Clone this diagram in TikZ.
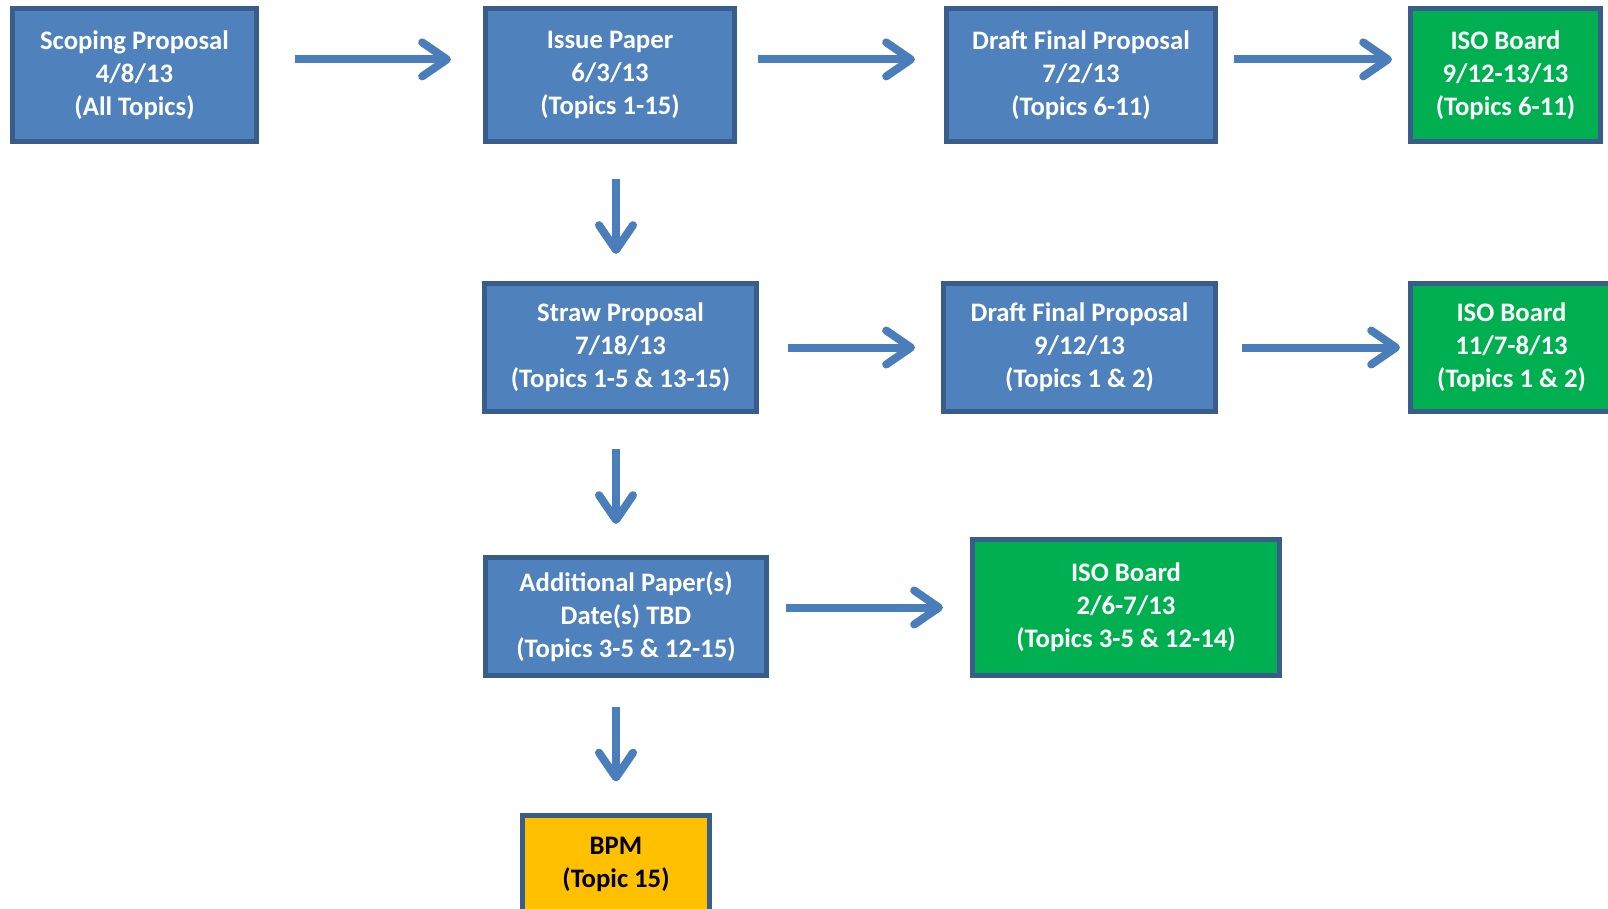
\documentclass[tikz,border=0pt]{standalone}
\usepackage{fontspec}
\setmainfont{Carlito}
\usetikzlibrary{arrows.meta}
\definecolor{boxblue}{HTML}{4F81BD}
\definecolor{boxedge}{HTML}{385D8A}
\definecolor{boxgreen}{HTML}{00B050}
\definecolor{boxyellow}{HTML}{FFC000}
\definecolor{arrowblue}{HTML}{4A7EBB}
\begin{document}
\begin{tikzpicture}[x=0.025cm, y=-0.025cm,
  box/.style={draw=boxedge, line width=0.125cm, align=center, inner sep=0pt,
    font=\fontsize{19}{23.5}\selectfont\bfseries, text=white},
  bluebox/.style={box, fill=boxblue},
  greenbox/.style={box, fill=boxgreen},
  yellowbox/.style={box, fill=boxyellow, text=black},
  flow/.style={draw=arrowblue, line width=0.2cm,
    -{Straight Barb[length=0.62cm, width=0.85cm, round]}}]
\useasboundingbox (0,0) rectangle (1608,908);
%
\node[bluebox, minimum width=6.1cm, minimum height=3.325cm] (scope) at (134.5,75)
  {Scoping Proposal\\4/8/13\\(All Topics)};
\node[bluebox, minimum width=6.225cm, minimum height=3.325cm] (issue) at (610,75)
  {Issue Paper\\6/3/13\\(Topics 1-15)};
\node[bluebox, minimum width=6.725cm, minimum height=3.325cm] (dfpa) at (1081,75)
  {Draft Final Proposal\\7/2/13\\(Topics 6-11)};
\node[greenbox, minimum width=4.75cm, minimum height=3.325cm] (isoa) at (1505.5,75)
  {ISO Board\\9/12-13/13\\(Topics 6-11)};
%
\node[bluebox, minimum width=6.8cm, minimum height=3.2cm] (straw) at (620.5,347.5)
  {Straw Proposal\\7/18/13\\(Topics 1-5 \& 13-15)};
\node[bluebox, minimum width=6.8cm, minimum height=3.2cm] (dfpb) at (1079.5,347.5)
  {Draft Final Proposal\\9/12/13\\(Topics 1 \& 2)};
\node[greenbox, minimum width=5.05cm, minimum height=3.2cm] (isob) at (1511.5,347.5)
  {ISO Board\\11/7-8/13\\(Topics 1 \& 2)};
%
\node[bluebox, minimum width=7.025cm, minimum height=2.95cm] (addl) at (626,616.5)
  {Additional Paper(s)\\Date(s) TBD\\(Topics 3-5 \& 12-15)};
\node[greenbox, minimum width=7.675cm, minimum height=3.4cm] (isoc) at (1126,607.5)
  {ISO Board\\2/6-7/13\\(Topics 3-5 \& 12-14)};
%
\node[yellowbox, minimum width=4.675cm, minimum height=2.45cm] (bpm) at (616,864)
  {BPM\\(Topic 15)};
%
\draw[flow, shorten <=0.9cm, shorten >=0.8cm] ([yshift=0.39cm]scope.east) -- ([yshift=0.39cm]issue.west);
\draw[flow, shorten <=0.525cm, shorten >=0.725cm] ([yshift=0.39cm]issue.east) -- ([yshift=0.39cm]dfpa.west);
\draw[flow, shorten <=0.4cm, shorten >=0.4cm] ([yshift=0.39cm]dfpa.east) -- ([yshift=0.39cm]isoa.west);
%
\draw[flow, shorten <=0.725cm, shorten >=0.65cm] (straw.east) -- (dfpb.west);
\draw[flow, shorten <=0.6cm, shorten >=0.2cm] (dfpb.east) -- (isob.west);
\draw[flow, shorten <=0.425cm, shorten >=0.675cm] (addl.east |- isoc) -- (isoc.west);
%
\draw[flow, shorten <=0.875cm, shorten >=0.675cm] (issue.south -| bpm) -- (straw.north -| bpm);
\draw[flow, shorten <=0.875cm, shorten >=0.775cm] (straw.south -| bpm) -- (addl.north -| bpm);
\draw[flow, shorten <=0.725cm, shorten >=0.775cm] (addl.south -| bpm) -- (bpm.north);
\end{tikzpicture}
\end{document}
